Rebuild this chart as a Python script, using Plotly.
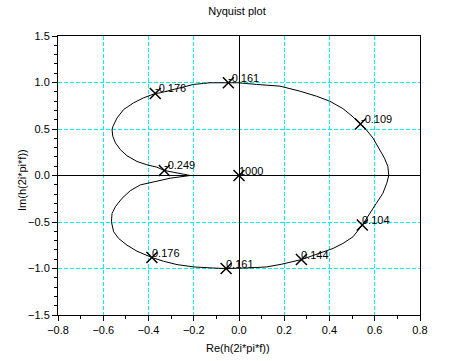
import plotly.graph_objects as go

# Upper half (negative frequencies), from origin outwards
re_upper = [0.0, -0.216, -0.245, -0.289, -0.330, -0.363, -0.407, -0.451, -0.495, -0.524,
            -0.546, -0.558, -0.561, -0.557, -0.539, -0.510, -0.466, -0.422, -0.370, -0.348,
            -0.289, -0.245, -0.201, -0.157, -0.128, -0.047, -0.003, 0.078, 0.181, 0.269,
            0.342, 0.401, 0.459, 0.504, 0.537, 0.562, 0.592, 0.621, 0.643, 0.658, 0.662]
im_upper = [0.0, 0.0, 0.014, 0.033, 0.054, 0.090, 0.115, 0.151, 0.212, 0.277,
            0.350, 0.421, 0.493, 0.529, 0.619, 0.709, 0.781, 0.835, 0.882, 0.889,
            0.925, 0.954, 0.979, 0.990, 0.997, 0.997, 0.997, 0.979, 0.961, 0.907,
            0.853, 0.799, 0.720, 0.630, 0.554, 0.493, 0.403, 0.277, 0.187, 0.097, 0.0]

# Lower half (positive frequencies), from real-axis crossing back to origin
re_lower = [0.662, 0.653, 0.636, 0.607, 0.577, 0.545, 0.504, 0.459, 0.415, 0.342,
            0.276, 0.188, 0.122, 0.048, -0.057, -0.128, -0.201, -0.274, -0.333, -0.385,
            -0.451, -0.495, -0.532, -0.554, -0.564, -0.561, -0.546, -0.517, -0.480, -0.436,
            -0.363, -0.304, -0.216, 0.0]
im_lower = [0.0, -0.083, -0.191, -0.299, -0.407, -0.533, -0.659, -0.731, -0.785, -0.846,
            -0.904, -0.954, -0.983, -0.993, -1.001, -0.993, -0.983, -0.958, -0.922, -0.882,
            -0.814, -0.749, -0.677, -0.605, -0.497, -0.407, -0.335, -0.245, -0.162, -0.101,
            -0.058, -0.029, 0.0, 0.0]

# Frequency markers
mark_labels = ["-0.249", "-0.176", "-0.161", "-0.109", "0.104", "0.144", "0.161", "0.176", "1000"]
mark_re = [-0.330, -0.370, -0.047, 0.537, 0.545, 0.276, -0.057, -0.385, 0.0]
mark_im = [0.054, 0.882, 0.997, 0.554, -0.533, -0.904, -1.001, -0.882, 0.0]

FONT = "Liberation Sans, Arial, sans-serif"

fig = go.Figure()
fig.add_trace(go.Scatter(x=re_upper + re_lower[1:], y=im_upper + im_lower[1:],
                         mode="lines", line=dict(color="black", width=1),
                         hoverinfo="skip", showlegend=False))
fig.add_trace(go.Scatter(x=mark_re, y=mark_im, mode="markers",
                         marker=dict(symbol="x-thin", size=11, color="black",
                                     line=dict(color="black", width=1.5)),
                         hoverinfo="skip", showlegend=False))

for lab, xv, yv in zip(mark_labels, mark_re, mark_im):
    fig.add_annotation(x=xv, y=yv, text=lab, showarrow=False, xanchor="left",
                       yanchor="bottom", xshift=-2, yshift=-3,
                       font=dict(family=FONT, size=11, color="black"))

axis_common = dict(showline=True, linecolor="black", linewidth=1, mirror=True,
                   ticks="outside", ticklen=5, tickcolor="black", tickwidth=1,
                   showgrid=True, gridcolor="#00f0f0", griddash="4px,2px", gridwidth=1,
                   zeroline=True, zerolinecolor="black", zerolinewidth=1,
                   tickformat=".1f", automargin=False, tickmode="linear", tick0=0,
                   tickfont=dict(family=FONT, size=11, color="black"))

fig.update_xaxes(range=[-0.8, 0.8], dtick=0.2, **axis_common,
                 minor=dict(dtick=0.1, tick0=0, ticks="outside", ticklen=3,
                            tickcolor="black", showgrid=False))
fig.update_yaxes(range=[-1.5, 1.5], dtick=0.5, **axis_common,
                 minor=dict(dtick=0.1, tick0=0, ticks="outside", ticklen=3,
                            tickcolor="black", showgrid=False))

L, R, T, B = 58, 54, 36, 46
W, H = 474, 361
pw, ph = W - L - R, H - T - B

# Axis titles
fig.add_annotation(xref="paper", yref="paper", x=(238 - L) / pw, y=(H - B - 348) / ph,
                   text="Re(h(2i*pi*f))", showarrow=False, xanchor="center", yanchor="middle",
                   font=dict(family=FONT, size=11, color="black"))
fig.add_annotation(xref="paper", yref="paper", x=(22 - L) / pw, y=(H - B - 180) / ph,
                   text="Im(h(2i*pi*f))", showarrow=False, xanchor="center", yanchor="middle",
                   textangle=-90, font=dict(family=FONT, size=11, color="black"))

fig.update_layout(
    width=W, height=H,
    margin=dict(l=L, r=R, t=T, b=B, autoexpand=False),
    paper_bgcolor="white", plot_bgcolor="white",
    hovermode=False,
    title=dict(text="Nyquist plot", x=237 / W, xanchor="center",
               y=1 - 11 / H, yanchor="middle", yref="container", automargin=False,
               font=dict(family=FONT, size=11, color="black")),
)

fig.write_html("out.html", config={"displayModeBar": False, "staticPlot": True},
               post_script="document.body.style.margin='0';document.body.style.overflow='hidden';")
